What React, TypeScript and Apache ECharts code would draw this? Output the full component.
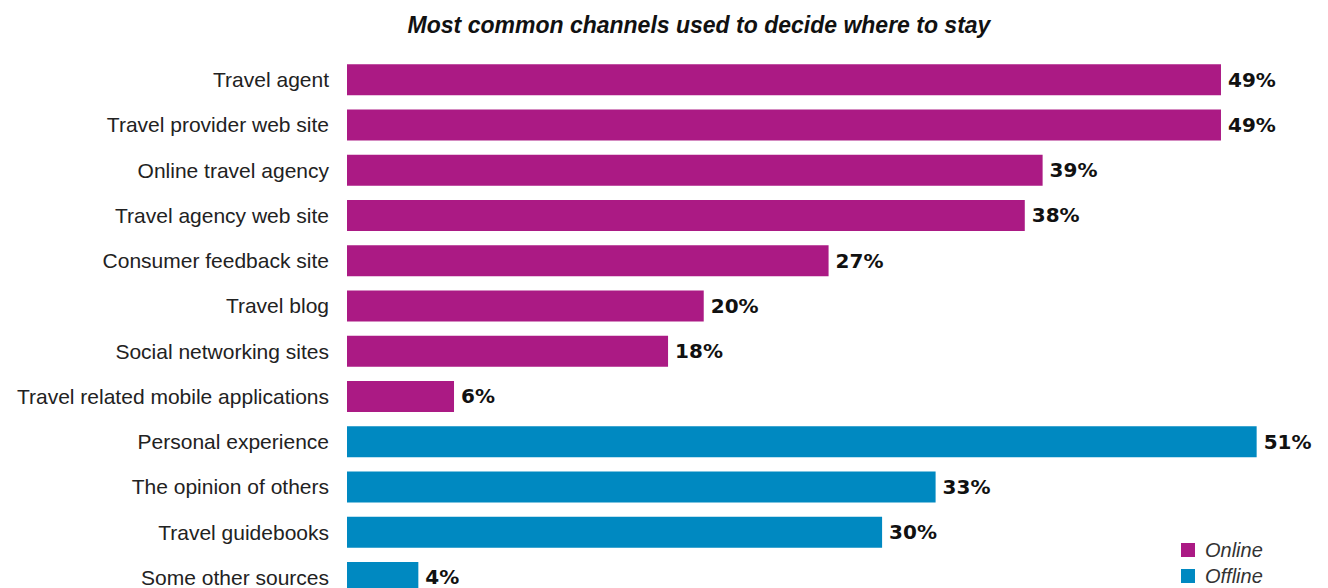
import React, { useEffect, useRef } from "react";
import * as echarts from "echarts";

const categories = [
  "Travel agent",
  "Travel provider web site",
  "Online travel agency",
  "Travel agency web site",
  "Consumer feedback site",
  "Travel blog",
  "Social networking sites",
  "Travel related mobile applications",
  "Personal experience",
  "The opinion of others",
  "Travel guidebooks",
  "Some other sources",
];
const onlineValues: (number | string)[] = [49, 49, 39, 38, 27, 20, 18, 6, "-", "-", "-", "-"];
const offlineValues: (number | string)[] = ["-", "-", "-", "-", "-", "-", "-", "-", 51, 33, 30, 4];
const titleText = "Most common channels used to decide where to stay";

const FONT = "'Liberation Sans', Arial, Helvetica, sans-serif";

export default function App() {
  const ref = useRef<HTMLDivElement>(null);
  useEffect(() => {
    if (!ref.current) return;
    const chart = echarts.init(ref.current, undefined, { renderer: "svg" });
    const label = {
      show: true,
      position: "right",
      distance: 7,
      formatter: "{c}%",
      color: "#111",
      fontFamily: "'DejaVu Sans', sans-serif",
      fontWeight: "bold",
      fontSize: 20,
    };
    chart.setOption({
      animation: false,
      backgroundColor: "#fff",
      title: {
        text: titleText,
        left: 694,
        textAlign: "center",
        top: 8,
        textStyle: {
          fontFamily: FONT,
          fontStyle: "italic",
          fontWeight: "bold",
          fontSize: 23,
          color: "#111",
        },
      },
      legend: {
        orient: "vertical",
        left: 1181,
        top: 540,
        padding: 0,
        itemWidth: 14,
        itemHeight: 14,
        itemGap: 6,
        icon: "rect",
        data: ["Online", "Offline"],
        textStyle: {
          fontFamily: FONT,
          fontStyle: "italic",
          fontSize: 20,
          color: "#333",
          padding: [0, 0, 0, 5],
        },
      },
      grid: { left: 347, top: 57, width: 982, height: 543, containLabel: false },
      xAxis: {
        type: "value",
        min: 0,
        max: 55,
        show: false,
        splitLine: { show: false },
      },
      yAxis: {
        type: "category",
        data: categories,
        inverse: true,
        axisLine: { show: false },
        axisTick: { show: false },
        axisLabel: {
          margin: 18,
          fontFamily: FONT,
          fontSize: 21,
          color: "#222",
        },
      },
      series: [
        {
          name: "Online",
          type: "bar",
          stack: "s",
          data: onlineValues,
          barWidth: 31,
          itemStyle: { color: "#ab1a84" },
          label,
        },
        {
          name: "Offline",
          type: "bar",
          stack: "s",
          data: offlineValues,
          barWidth: 31,
          itemStyle: { color: "#0089c1" },
          label,
        },
      ],
    });
    return () => chart.dispose();
  }, []);
  return (
    <div
      ref={ref}
      style={{ position: "fixed", left: 0, top: 0, width: 1328, height: 610 }}
    />
  );
}
